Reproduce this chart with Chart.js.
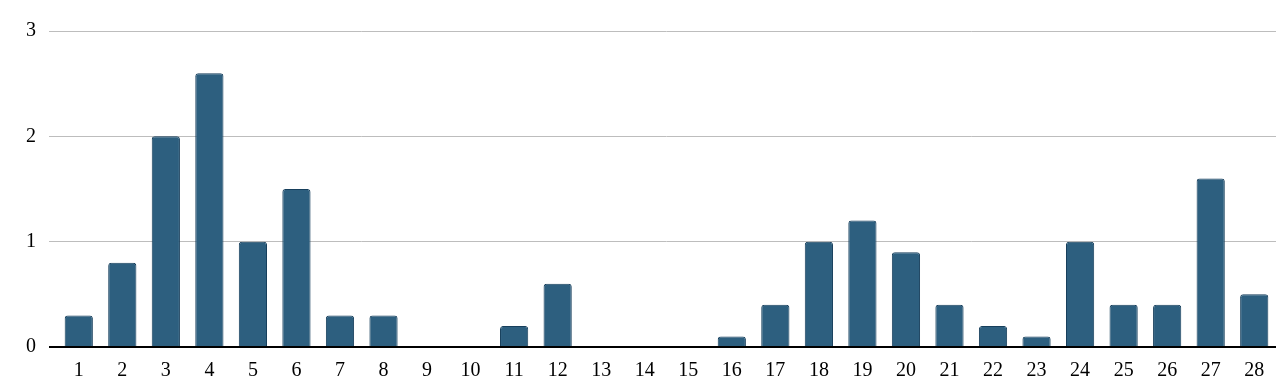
<!DOCTYPE html>
<html>
<head>
<meta charset="utf-8">
<script src="https://cdn.jsdelivr.net/npm/chart.js@4"></script>
<style>
  html, body { margin: 0; padding: 0; background: #fff; }
  #wrap { width: 1280px; height: 389px; }
</style>
</head>
<body>
<div id="wrap"><canvas id="chart" width="1280" height="389"></canvas></div>
<script>
// categories 1..28
const labels = ["1", "2", "3", "4", "5", "6", "7", "8", "9", "10", "11", "12", "13", "14",
  "15", "16", "17", "18", "19", "20", "21", "22", "23", "24", "25", "26", "27", "28"];
const values = [0.3, 0.8, 2.0, 2.6, 1.0, 1.5, 0.3, 0.3, 0, 0, 0.2, 0.6, 0, 0,
  0, 0.1, 0.4, 1.0, 1.2, 0.9, 0.4, 0.2, 0.1, 1.0, 0.4, 0.4, 1.6, 0.5];
const yTicks = [0, 1, 2, 3];

const font = { family: "'Liberation Serif', 'Times New Roman', serif", size: 20 };

new Chart(document.getElementById("chart").getContext("2d"), {
  type: "bar",
  data: {
    labels: labels,
    datasets: [{
      data: values,
      backgroundColor: "#2d5f7f",
      borderColor: "#173f5c",
      borderWidth: 1,
      borderSkipped: "bottom",
      borderRadius: { topLeft: 3, topRight: 3 },
      barPercentage: 0.9,
      categoryPercentage: 0.72,
    }],
  },
  options: {
    responsive: false,
    animation: false,
    layout: { padding: { top: 31, right: 4, left: 0, bottom: 2 } },
    plugins: { legend: { display: false }, tooltip: { enabled: false } },
    scales: {
      x: {
        grid: { display: false },
        border: { display: false },
        ticks: { color: "#000", font: font, padding: 4, maxRotation: 0, autoSkip: false },
      },
      y: {
        min: 0,
        max: 3,
        afterFit: function (scale) { scale.width = 57; },
        afterBuildTicks: function (scale) {
          scale.ticks = yTicks.map(v => ({ value: v }));
        },
        border: { display: false },
        grid: {
          tickLength: 8,
          color: ctx => (ctx.tick && ctx.tick.value === 0 ? "#000" : "#bdbdbd"),
          lineWidth: ctx => (ctx.tick && ctx.tick.value === 0 ? 2 : 1),
        },
        ticks: { color: "#000", font: font, padding: 13 },
      },
    },
  },
});
</script>
</body>
</html>
